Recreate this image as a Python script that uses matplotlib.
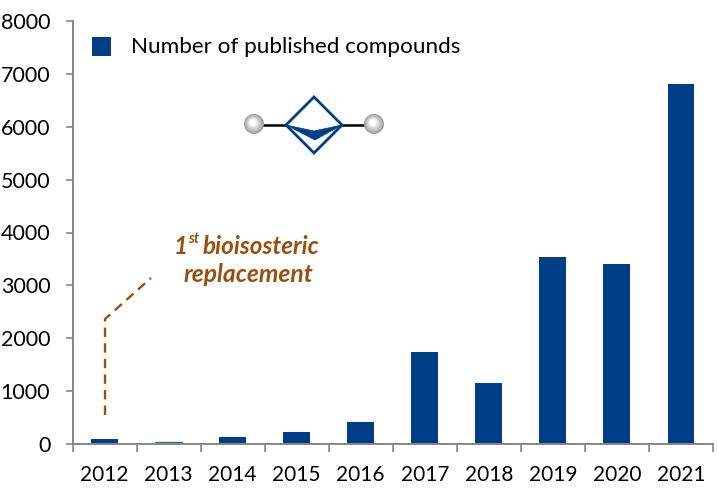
import matplotlib
matplotlib.use('Agg')
import matplotlib.pyplot as plt
from matplotlib.patches import Circle, Polygon, Rectangle

plt.rcParams['font.family'] = ['Lato', 'DejaVu Sans']

years = ['2012', '2013', '2014', '2015', '2016', '2017', '2018', '2019', '2020', '2021']
compounds = [90, 30, 135, 235, 415, 1740, 1150, 3540, 3410, 6800]
yticks = [0, 1000, 2000, 3000, 4000, 5000, 6000, 7000, 8000]

W, H = 717, 496
BLUE = '#003F87'
BROWN = '#9A4F10'
GRAY = '#868686'

fig = plt.figure(figsize=(W / 100, H / 100), dpi=100)

# main axes, placed in pixels
left, right, top, bottom = 72.5, 713, 21, 444
ax = fig.add_axes([left / W, 1 - bottom / H, (right - left) / W, (bottom - top) / H])
xs = list(range(len(years)))
bars = ax.bar(xs, compounds, width=0.42, color=BLUE)
bars[1].set_color('#3F6E9E')
ax.set_xlim(-0.5, len(years) - 0.5)
ax.set_ylim(0, 8000)
ax.set_yticks(yticks)
ax.set_xticks([x - 0.5 for x in xs] + [len(years) - 0.5])
ax.set_xticklabels([])
ax.set_xticks(xs, years, minor=True)
ax.tick_params(axis='x', which='minor', length=0, labelsize=15, pad=15, labelcolor='black')
ax.tick_params(axis='x', which='major', length=5.5, width=1.2, color=GRAY)
ax.tick_params(axis='y', length=5, width=1.2, color=GRAY, labelsize=15.5, pad=11)
for s in ['top', 'right']:
    ax.spines[s].set_visible(False)
for s in ['left', 'bottom']:
    ax.spines[s].set_color(GRAY)
    ax.spines[s].set_linewidth(1.4)

# overlay in image pixels for the legend, scheme and note
ov = fig.add_axes([0, 0, 1, 1], facecolor='none')
ov.set_xlim(0, W)
ov.set_ylim(H, 0)
ov.axis('off')

ov.add_patch(Rectangle((92, 37), 19, 19, color=BLUE, lw=0))
ov.text(131, 47, 'Number of published compounds', fontsize=16.2, va='center', ha='left')

# bicyclo scheme
ov.plot([262, 366], [125, 125], color='black', lw=1.8, zorder=2)
ov.add_patch(Polygon([(314, 97), (342, 125), (314, 153), (286, 125)], closed=True,
                     fc='white', ec=BLUE, lw=2, zorder=3))
ov.add_patch(Polygon([(286, 125), (314, 131), (342, 125), (315, 140)], closed=True,
                     fc=BLUE, ec=BLUE, lw=0.5, zorder=4))
for cx in [254, 374]:
    for i in range(12):
        r = 10 * (1 - i / 12)
        g = min(1.0, 0.62 + 0.5 * i / 11)
        ov.add_patch(Circle((cx - 1.5 * i / 11, 124 - 2 * i / 11), r,
                            fc=(g, g, g), ec='none', zorder=5))

# note with dashed leader
ov.plot([105, 105, 151], [415, 319, 278], color=BROWN, lw=1.7,
        dashes=(4, 2.6), zorder=3)
kw = dict(color=BROWN, fontweight='bold', fontstyle='italic')
ov.text(174, 246, '1', fontsize=17.5, va='center', ha='left', **kw)
ov.text(188, 239, 'st', fontsize=10.5, va='center', ha='left', **kw)
ov.text(203, 246, 'bioisosteric', fontsize=17.5, va='center', ha='left', **kw)
ov.text(248.5, 275, 'replacement', fontsize=17.7, va='center', ha='center', **kw)

fig.savefig('out.png', dpi=100)
